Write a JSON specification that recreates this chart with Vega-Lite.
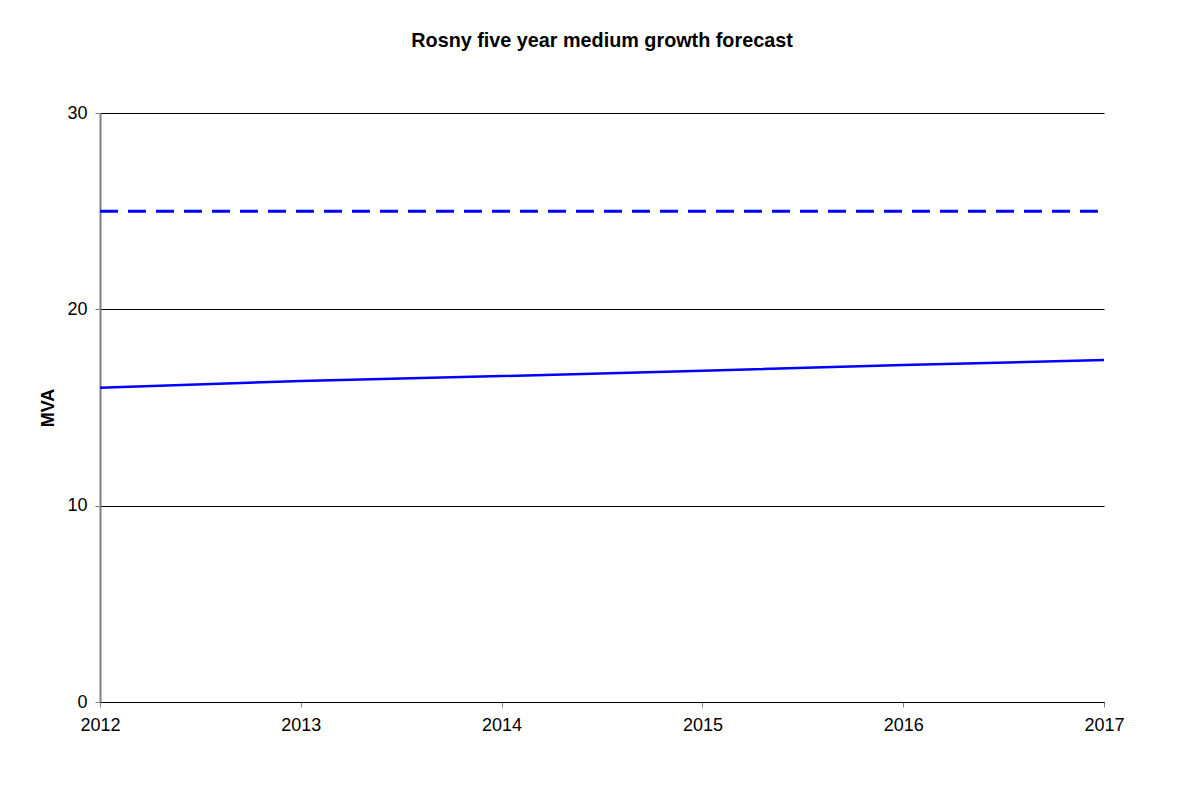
{
  "$schema": "https://vega.github.io/schema/vega-lite/v6.json",
  "width": 1004,
  "height": 589,
  "autosize": {"type": "none"},
  "padding": {"left": 100, "top": 113, "right": 90, "bottom": 83},
  "background": "white",
  "config": {
    "font": "Liberation Sans",
    "view": {"stroke": null},
    "axis": {"labelFont": "Liberation Sans", "titleFont": "Liberation Sans"}
  },
  "title": {
    "text": "Rosny five year medium growth forecast",
    "font": "Liberation Sans",
    "fontSize": 19.8,
    "fontWeight": "bold",
    "color": "black",
    "anchor": "middle",
    "baseline": "alphabetic",
    "offset": 37
  },
  "datasets": {
    "forecast": [
      {"year": 2012, "mva": 16.01, "series": "Forecast"},
      {"year": 2013, "mva": 16.35, "series": "Forecast"},
      {"year": 2014, "mva": 16.6, "series": "Forecast"},
      {"year": 2015, "mva": 16.87, "series": "Forecast"},
      {"year": 2016, "mva": 17.16, "series": "Forecast"},
      {"year": 2017, "mva": 17.42, "series": "Forecast"}
    ],
    "rating": [
      {"year": 2012, "mva": 25, "series": "Firm rating"},
      {"year": 2013, "mva": 25, "series": "Firm rating"},
      {"year": 2014, "mva": 25, "series": "Firm rating"},
      {"year": 2015, "mva": 25, "series": "Firm rating"},
      {"year": 2016, "mva": 25, "series": "Firm rating"},
      {"year": 2017, "mva": 25, "series": "Firm rating"}
    ]
  },
  "layer": [
    {
      "data": {"name": "forecast"},
      "mark": {"type": "line", "color": "#0000FF", "strokeWidth": 2.5},
      "encoding": {
        "x": {
          "field": "year",
          "type": "quantitative",
          "scale": {"domain": [2012, 2017], "nice": false, "zero": false},
          "axis": {
            "values": [2012, 2013, 2014, 2015, 2016, 2017],
            "format": "d",
            "title": null,
            "grid": false,
            "domainColor": "black",
            "domainWidth": 1,
            "tickColor": "#808080",
            "tickSize": 5,
            "labelFontSize": 18,
            "labelColor": "black",
            "labelPadding": 9,
            "labelFlush": false
          }
        },
        "y": {
          "field": "mva",
          "type": "quantitative",
          "scale": {"domain": [0, 30], "nice": false},
          "axis": {
            "values": [0, 10, 20, 30],
            "title": "MVA",
            "titleFontSize": 18,
            "titleFontWeight": "bold",
            "titleColor": "black",
            "titlePadding": 9,
            "grid": true,
            "gridColor": "black",
            "gridWidth": 1,
            "gridOpacity": 1,
            "domainColor": "#808080",
            "domainWidth": 2,
            "tickColor": "#808080",
            "tickSize": 5,
            "labelFontSize": 18,
            "labelColor": "black",
            "labelPadding": 8
          }
        }
      }
    },
    {
      "data": {"name": "rating"},
      "mark": {"type": "line", "color": "#0000FF", "strokeWidth": 3, "strokeDash": [18, 10]},
      "encoding": {
        "x": {"field": "year", "type": "quantitative"},
        "y": {"field": "mva", "type": "quantitative"}
      }
    }
  ]
}
